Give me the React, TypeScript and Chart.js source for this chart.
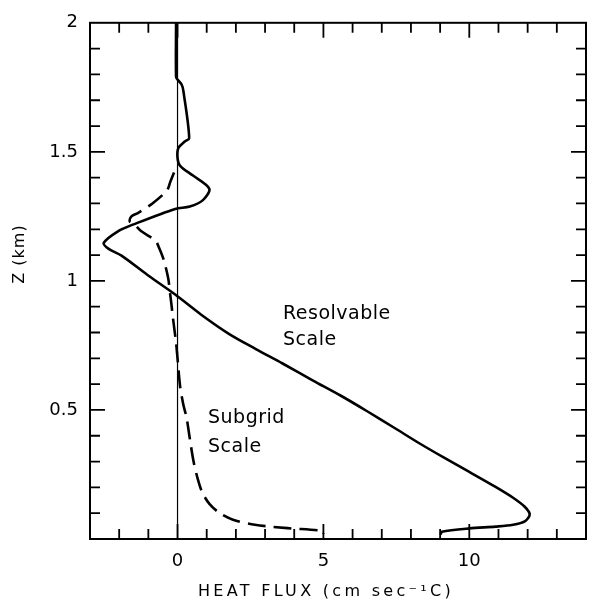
import React, { useEffect, useRef } from "react";
import { Chart, registerables } from "chart.js";

Chart.register(...registerables);

// ---- data (heat flux in cm sec^-1 C, height Z in km) ----
const resolvableZ = [2.0, 1.79, 1.78, 1.761, 1.736, 1.553, 1.54, 1.515, 1.477, 1.446, 1.408, 1.357, 1.313, 1.288, 1.279, 1.218, 1.193, 1.147, 1.124, 1.098, 1.023, 0.947, 0.87, 0.795, 0.735, 0.68, 0.613, 0.555, 0.495, 0.43, 0.37, 0.316, 0.26, 0.202, 0.16, 0.125, 0.095, 0.068, 0.055, 0.048, 0.041, 0.028, 0.018];
const resolvableFlux = [-0.05, -0.05, 0.0, 0.14, 0.2, 0.4, 0.25, 0.03, 0.0, 0.09, 0.53, 1.09, 0.87, 0.42, -0.08, -1.53, -2.03, -2.53, -2.36, -1.92, -1.03, -0.08, 0.8, 1.76, 2.7, 3.6, 4.66, 5.6, 6.5, 7.44, 8.3, 9.12, 10.0, 10.9, 11.5, 11.9, 12.07, 11.9, 11.5, 10.9, 10.0, 9.06, 9.02];

const subgridZ = [1.42, 1.383, 1.351, 1.3, 1.263, 1.25, 1.231, 1.222, 1.193, 1.155, 1.13, 1.08, 1.01, 0.947, 0.9, 0.859, 0.76, 0.7, 0.59, 0.52, 0.47, 0.39, 0.3, 0.23, 0.18, 0.135, 0.1, 0.075, 0.055, 0.042, 0.031, 0.02];
const subgridFlux = [-0.12, -0.25, -0.36, -0.86, -1.36, -1.58, -1.64, -1.5, -1.25, -0.75, -0.64, -0.47, -0.32, -0.25, -0.2, -0.16, -0.05, 0.0, 0.09, 0.2, 0.31, 0.42, 0.55, 0.7, 0.85, 1.1, 1.45, 1.9, 2.65, 3.77, 5.0, 5.0];

const zeroLineZ = [0, 2];
const zeroLineFlux = [0, 0];

const xLabelValues = [0, 5, 10];
const yLabelValues = [0.5, 1, 1.5, 2];
const xMin = -3;
const xMax = 14;
const yMin = 0;
const yMax = 2;

const xTitle = "HEAT FLUX (cm sec\u207B\u00B9C)";
const yTitle = "Z (km)";
const annotations = [
  { text: "Resolvable", x: 283, y: 319 },
  { text: "Scale", x: 283, y: 345 },
  { text: "Subgrid", x: 208, y: 423 },
  { text: "Scale", x: 208, y: 452 },
];

const FONT = "'DejaVu Sans', sans-serif";

const toPoints = (xs: number[], ys: number[]) => xs.map((x, i) => ({ x, y: ys[i] }));

const framePlugin = {
  id: "frameTicks",
  afterDraw(chart: any) {
    const { ctx, chartArea } = chart;
    const xs = chart.scales.x;
    const ys = chart.scales.y;
    const { left, right, top, bottom } = chartArea;
    ctx.save();
    ctx.strokeStyle = "#000";
    ctx.lineWidth = 2;
    ctx.strokeRect(left, top, right - left, bottom - top);
    ctx.lineWidth = 1.8;
    ctx.beginPath();
    for (let v = xMin + 1; v < xMax; v++) {
      const px = xs.getPixelForValue(v);
      const len = xLabelValues.includes(v) ? 15 : 10;
      ctx.moveTo(px, bottom);
      ctx.lineTo(px, bottom - len);
      ctx.moveTo(px, top);
      ctx.lineTo(px, top + len);
    }
    for (let k = 1; k < 20; k++) {
      const v = k / 10;
      const py = ys.getPixelForValue(v);
      const len = yLabelValues.some((l) => Math.abs(l - v) < 1e-6) ? 15 : 10;
      ctx.moveTo(left, py);
      ctx.lineTo(left + len, py);
      ctx.moveTo(right, py);
      ctx.lineTo(right - len, py);
    }
    ctx.stroke();

    ctx.fillStyle = "#000";
    ctx.font = `19px ${FONT}`;
    ctx.textAlign = "left";
    ctx.textBaseline = "alphabetic";
    (ctx as any).letterSpacing = "0.5px";
    annotations.forEach((a) => ctx.fillText(a.text, a.x, a.y));

    // axis titles
    ctx.font = `16px ${FONT}`;
    (ctx as any).letterSpacing = "3.3px";
    ctx.fillText(xTitle, 198, 596);
    ctx.save();
    ctx.translate(24, 254);
    ctx.rotate(-Math.PI / 2);
    ctx.textAlign = "center";
    (ctx as any).letterSpacing = "1px";
    ctx.fillText(yTitle, 0, 0);
    ctx.restore();
    (ctx as any).letterSpacing = "0px";
    ctx.restore();
  },
};

export default function App() {
  const canvasRef = useRef<HTMLCanvasElement | null>(null);

  useEffect(() => {
    document.body.style.margin = "0";
    const canvas = canvasRef.current;
    if (!canvas) return;
    const chart = new Chart(canvas, {
      type: "scatter",
      data: {
        datasets: [
          {
            label: "Zero",
            data: toPoints(zeroLineFlux, zeroLineZ),
            showLine: true,
            borderColor: "#000",
            borderWidth: 1.2,
            pointRadius: 0,
          },
          {
            label: "Resolvable Scale",
            data: toPoints(resolvableFlux, resolvableZ),
            showLine: true,
            borderColor: "#000",
            borderWidth: 2.6,
            pointRadius: 0,
            tension: 0.3,
          },
          {
            label: "Subgrid Scale",
            data: toPoints(subgridFlux, subgridZ),
            showLine: true,
            borderColor: "#000",
            borderWidth: 2.6,
            borderDash: [18, 8],
            pointRadius: 0,
            tension: 0.3,
          },
        ],
      },
      options: {
        responsive: false,
        animation: false,
        devicePixelRatio: 1,
        layout: { padding: { top: 10, right: 1, left: 0, bottom: 0 } },
        plugins: { legend: { display: false }, tooltip: { enabled: false } },
        scales: {
          x: {
            type: "linear",
            min: xMin,
            max: xMax,
            grid: { display: false, drawTicks: false },
            border: { display: false },
            ticks: {
              stepSize: 1,
              autoSkip: false,
              maxRotation: 0,
              padding: 12,
              color: "#000",
              font: { family: FONT, size: 18 },
              callback: (v: any) => (xLabelValues.includes(Math.round(Number(v))) ? String(Math.round(Number(v))) : ""),
            },
            afterFit: (s: any) => {
              s.height = 70;
            },
          },
          y: {
            type: "linear",
            min: yMin,
            max: yMax,
            grid: { display: false, drawTicks: false },
            border: { display: false },
            ticks: {
              stepSize: 0.1,
              autoSkip: false,
              padding: 12,
              color: "#000",
              font: { family: FONT, size: 18 },
              callback: (v: any) => {
                const r = Math.round(Number(v) * 10) / 10;
                return yLabelValues.includes(r) ? String(r) : "";
              },
            },
            afterFit: (s: any) => {
              s.width = 90;
            },
          },
        },
      },
      plugins: [framePlugin],
    });
    return () => chart.destroy();
  }, []);

  return (
    <div style={{ width: 598, height: 609, background: "#fff" }}>
      <canvas ref={canvasRef} width={598} height={609} />
    </div>
  );
}
